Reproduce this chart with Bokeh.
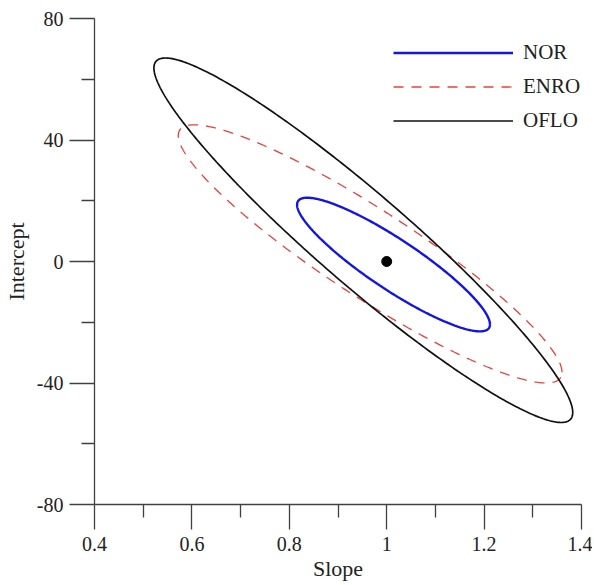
import numpy as np
from bokeh.plotting import figure
from bokeh.models import Range1d, FixedTicker, Legend, LegendItem, ColumnDataSource
from bokeh.embed import file_html
from bokeh.resources import INLINE

# ---- data ----
names = ["NOR", "ENRO", "OFLO"]
center_slope = [1.014, 0.966, 0.952]
center_intercept = [-1.0, 2.5, 7.0]
half_range_slope = [0.198, 0.394, 0.430]
half_range_intercept = [22.0, 42.5, 60.0]
correlation = [-0.895, -0.917, -0.945]

ref_slope = [1.0]
ref_intercept = [0.0]

x_ticks = [0.4, 0.6, 0.8, 1.0, 1.2, 1.4]
x_tick_labels = ["0.4", "0.6", "0.8", "1", "1.2", "1.4"]
x_minor = [0.5, 0.7, 0.9, 1.1, 1.3]
y_ticks = [-80, -40, 0, 40, 80]
y_tick_labels = ["-80", "-40", "0", "40", "80"]
y_minor = [-60, -20, 20, 60]

# ---- styles ----
colors = ["#1414e6", "#e8413c", "#111111"]
dashes = ["solid", "10 8", "solid"]
widths = [2.4, 1.3, 1.7]

FONT = "Liberation Serif"
AX = "#404040"

p = figure(width=592, height=585,
           x_range=Range1d(0.4, 1.4), y_range=Range1d(-80, 80),
           output_backend="svg", toolbar_location=None,
           min_border_left=94, min_border_top=18, min_border_right=11,
           min_border_bottom=81)
p.outline_line_color = None
p.grid.visible = False
p.background_fill_color = "white"

t = np.linspace(0, 2 * np.pi, 400)
items = []
for i, name in enumerate(names):
    r = correlation[i]
    xs = center_slope[i] + half_range_slope[i] * np.cos(t)
    ys = center_intercept[i] + half_range_intercept[i] * (r * np.cos(t) + np.sqrt(1 - r * r) * np.sin(t))
    src = ColumnDataSource(dict(x=xs, y=ys))
    rend = p.line("x", "y", source=src, line_color=colors[i], line_width=widths[i],
                  line_dash=dashes[i])
    items.append(LegendItem(label=name, renderers=[rend]))

p.scatter(ref_slope, ref_intercept, size=10, color="black")

legend = Legend(items=items, location=(299, 371), glyph_width=120, glyph_height=21,
                label_height=21, spacing=9, padding=0, margin=0,
                border_line_color=None, background_fill_alpha=0,
                label_text_font=FONT, label_text_font_size="21px",
                label_text_color="#222222", label_standoff=10)
p.add_layout(legend)

for ax, ticks, minor, labels in ((p.xaxis[0], x_ticks, x_minor, x_tick_labels),
                                 (p.yaxis[0], y_ticks, y_minor, y_tick_labels)):
    ax.ticker = FixedTicker(ticks=ticks, minor_ticks=minor)
    ax.major_label_overrides = {tk: lb for tk, lb in zip(ticks, labels)}
    ax.axis_line_color = AX
    ax.major_tick_line_color = AX
    ax.minor_tick_line_color = AX
    ax.axis_line_width = 1.3
    ax.major_tick_line_width = 1.3
    ax.minor_tick_line_width = 1.3
    ax.major_tick_out = 25
    ax.major_tick_in = 0
    ax.minor_tick_out = 13
    ax.minor_tick_in = 0
    ax.major_label_text_font = FONT
    ax.major_label_text_font_size = "20px"
    ax.major_label_text_color = "#222222"
    ax.axis_label_text_font = FONT
    ax.axis_label_text_font_size = "22px"
    ax.axis_label_text_font_style = "normal"
    ax.axis_label_text_color = "#222222"

p.xaxis.axis_label = "Slope"
p.yaxis.axis_label = "Intercept"
p.xaxis.major_label_standoff = 7
p.xaxis.axis_label_standoff = 2
p.yaxis.major_label_standoff = 6
p.yaxis.axis_label_standoff = 5
p.yaxis.major_label_orientation = "horizontal"

open("out.html", "w").write(file_html(p, INLINE))
